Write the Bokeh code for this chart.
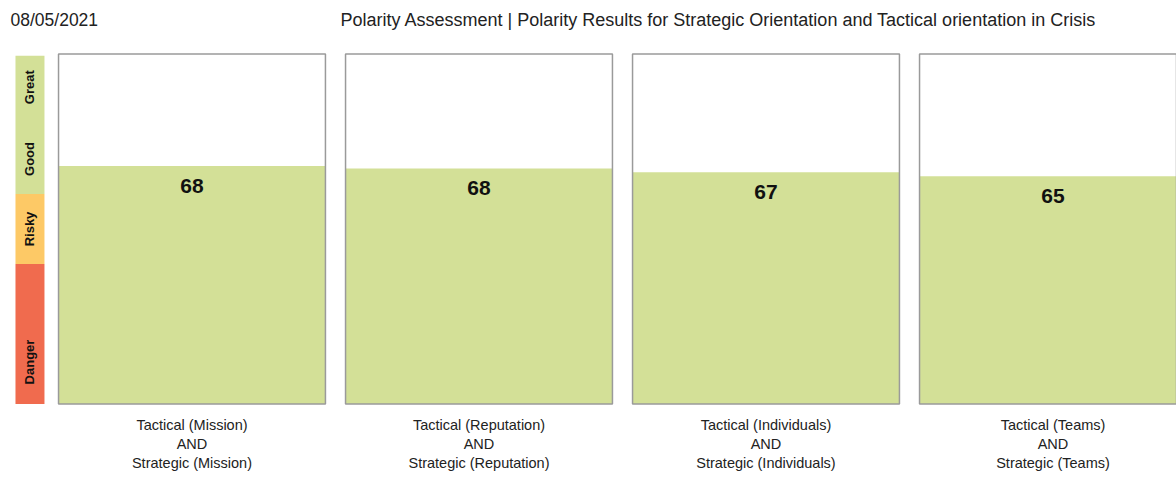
from math import pi
from bokeh.plotting import figure
from bokeh.models import Range1d, ColumnDataSource, FixedTicker
from bokeh.core.properties import value
from bokeh.embed import file_html
from bokeh.resources import INLINE

# ---- data ----
date_text = "08/05/2021"
title_text = "Polarity Assessment | Polarity Results for Strategic Orientation and Tactical orientation in Crisis"
categories = ["Mission", "Reputation", "Individuals", "Teams"]
scores = [68.0, 67.3, 66.2, 65.1]
score_labels = ["68", "68", "67", "65"]

band_names = ["Danger", "Risky", "Good", "Great"]
band_bottoms = [0, 40, 60]
band_tops = [40, 60, 99.5]
band_colors = ["#F06B4E", "#FDC966", "#D3E097"]
band_label_pos = [12, 50, 70, 90.5]

# ---- styles / layout ----
BAR_GREEN = "#D3E097"
BORDER = "#9A9A9A"
PANEL_W = 0.93
BAND_X = 0.4355
BAND_W = 0.101
X0, X1 = 0.3328, 4.4303
Y0, Y1 = -1.0, 115.2857
HEADER_Y = 109.7
DATE_X = 0.3676
TITLE_X = 1.5175

xs = list(range(1, len(categories) + 1))
tick_text = {x: f"Tactical ({c})\nAND\nStrategic ({c})" for x, c in zip(xs, categories)}

p = figure(width=1176, height=478, output_backend="svg", toolbar_location=None,
           x_range=Range1d(X0, X1), y_range=Range1d(Y0, Y1),
           min_border_left=0, min_border_right=0, min_border_top=0, min_border_bottom=71,
           y_axis_location=None)
p.outline_line_color = None
p.xgrid.visible = False
p.ygrid.visible = False
p.background_fill_color = "white"
p.border_fill_color = "white"

# header
p.text(x=[DATE_X], y=[HEADER_Y], text=[date_text], text_align="left", text_baseline="alphabetic",
       text_font=value("Liberation Sans"), text_font_size="17.5px", text_color="#222222")
p.text(x=[TITLE_X], y=[HEADER_Y], text=[title_text], text_align="left", text_baseline="alphabetic",
       text_font=value("Liberation Sans"), text_font_size="18px", text_color="#222222")

# band on the left
band_src = ColumnDataSource(dict(x=[BAND_X] * 3, bottom=band_bottoms, top=band_tops, color=band_colors))
p.vbar(x="x", bottom="bottom", top="top", width=BAND_W, fill_color="color", line_color=None, source=band_src)
p.text(x=[BAND_X] * 4, y=band_label_pos, text=band_names, angle=pi / 2,
       text_align="center", text_baseline="middle", text_font=value("Liberation Sans"),
       text_font_style="bold", text_font_size="13px", text_color="#111111")

# panels
src = ColumnDataSource(dict(x=xs, top=scores, label=score_labels))
p.vbar(x="x", bottom=0, top="top", width=PANEL_W, fill_color=BAR_GREEN, line_color=None, source=src)
p.vbar(x=xs, bottom=0, top=100, width=PANEL_W, fill_color=None, line_color=BORDER, line_width=1.5)
p.text(x="x", y="top", text="label", source=src, y_offset=13, text_align="center", text_baseline="top",
       text_font=value("Liberation Sans"), text_font_style="bold", text_font_size="21px", text_color="#111111")

# axis labels
ax = p.xaxis[0]
ax.ticker = FixedTicker(ticks=xs)
ax.major_label_overrides = tick_text
ax.axis_line_color = None
ax.major_tick_line_color = None
ax.minor_tick_line_color = None
ax.major_label_standoff = 3
ax.major_label_text_font = "Liberation Sans"
ax.major_label_text_font_size = "14.5px"
ax.major_label_text_color = "#222222"

open("out.html", "w").write(file_html(p, INLINE))
